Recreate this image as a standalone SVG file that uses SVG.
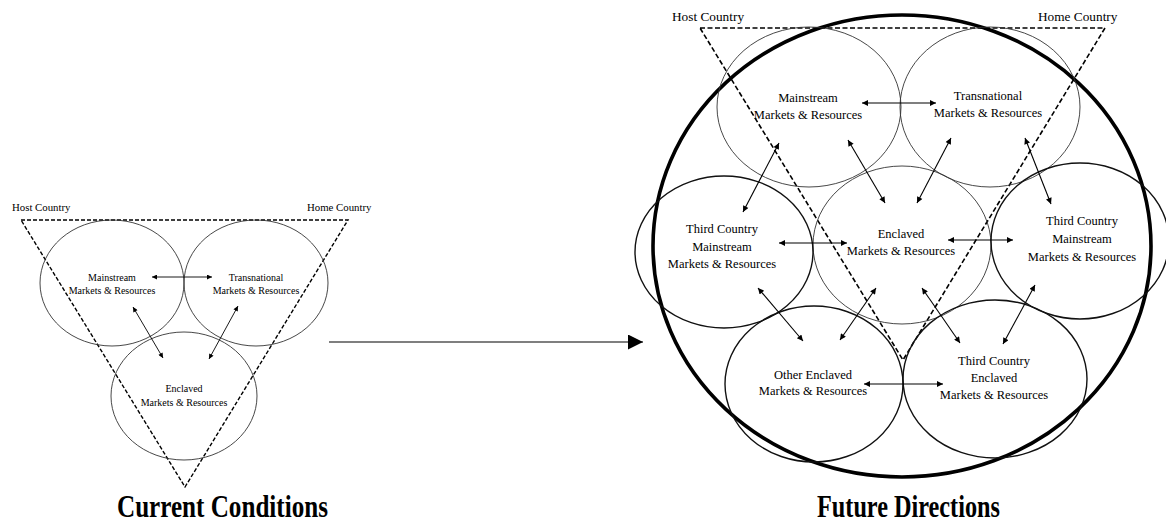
<svg xmlns="http://www.w3.org/2000/svg" width="1166" height="524" viewBox="0 0 1166 524">
  <defs>
    <style>
      .bg { fill: #ffffff; }
      .lbl { font-family: "Liberation Serif", "Times New Roman", serif; fill: #000; text-anchor: middle; }
      .s10 { font-size: 10px; }
      .s12 { font-size: 12.5px; }
      .country-s { font-family: "Liberation Serif", serif; font-size: 10.8px; fill: #000; }
      .country-l { font-family: "Liberation Serif", serif; font-size: 13.3px; fill: #000; }
      .title { font-family: "Liberation Serif", "Times New Roman", serif; font-weight: bold; font-size: 31px; fill: #000; }
      .tri-s { fill: none; stroke: #000; stroke-width: 1.4; stroke-dasharray: 4 2; }
      .tri-l { fill: none; stroke: #000; stroke-width: 1.6; stroke-dasharray: 5 2.5; }
      .ring-thin { fill: none; stroke: #333; stroke-width: 0.9; }
      .ring-mid { fill: none; stroke: #111; stroke-width: 1.4; }
      .ring-big { fill: none; stroke: #000; stroke-width: 3.6; }
      .link-s { stroke: #000; stroke-width: 0.9; fill: none; marker-start: url(#tipS); marker-end: url(#tipS); }
      .link-l { stroke: #000; stroke-width: 1.1; fill: none; marker-start: url(#tipL); marker-end: url(#tipL); }
      .flow { stroke: #000; stroke-width: 1.2; fill: none; marker-end: url(#tipBig); }
    </style>
    <marker id="tipS" viewBox="0 0 10 10" refX="10" refY="5" markerWidth="6" markerHeight="5" orient="auto-start-reverse" markerUnits="userSpaceOnUse">
      <path d="M0,0 L10,5 L0,10 z" fill="#000"/>
    </marker>
    <marker id="tipL" viewBox="0 0 10 10" refX="10" refY="5" markerWidth="8" markerHeight="6" orient="auto-start-reverse" markerUnits="userSpaceOnUse">
      <path d="M0,0 L10,5 L0,10 z" fill="#000"/>
    </marker>
    <marker id="tipBig" viewBox="0 0 10 10" refX="10" refY="5" markerWidth="15" markerHeight="15" orient="auto" markerUnits="userSpaceOnUse">
      <path d="M0,0 L10,5 L0,10 z" fill="#000"/>
    </marker>
  </defs>

  <rect class="bg" x="0" y="0" width="1166" height="524"/>

  <!-- ===== Current conditions (left) ===== -->
  <g id="current-frame">
    <polygon class="tri-s" points="21,220 348,220 185,487"/>
    <text class="country-s" x="12" y="211">Host Country</text>
    <text class="country-s" x="307" y="211">Home Country</text>
  </g>
  <g id="cur-mainstream">
    <ellipse class="ring-thin" cx="112" cy="283" rx="72" ry="63"/>
    <text class="lbl s10" x="112" y="281">Mainstream</text>
    <text class="lbl s10" x="112" y="294">Markets &amp; Resources</text>
  </g>
  <g id="cur-transnational">
    <ellipse class="ring-thin" cx="256" cy="283" rx="72" ry="63"/>
    <text class="lbl s10" x="256" y="281">Transnational</text>
    <text class="lbl s10" x="256" y="294">Markets &amp; Resources</text>
  </g>
  <g id="cur-enclaved">
    <ellipse class="ring-thin" cx="184" cy="396" rx="73" ry="64"/>
    <text class="lbl s10" x="184" y="392">Enclaved</text>
    <text class="lbl s10" x="184" y="406">Markets &amp; Resources</text>
  </g>
  <g id="current-title">
    <text class="title" x="117" y="517" textLength="211" lengthAdjust="spacingAndGlyphs">Current Conditions</text>
  </g>

  <!-- ===== Future directions (right) ===== -->
  <g id="future-frame">
    <ellipse class="ring-big" cx="902" cy="246" rx="249" ry="231"/>
    <polygon class="tri-l" points="700,28 1105,28 903,360"/>
    <text class="country-l" x="672" y="21">Host Country</text>
    <text class="country-l" x="1038" y="21">Home Country</text>
  </g>
  <g id="fut-mainstream">
    <ellipse class="ring-thin" cx="809" cy="107" rx="92" ry="80"/>
    <text class="lbl s12" x="808" y="102">Mainstream</text>
    <text class="lbl s12" x="808" y="119">Markets &amp; Resources</text>
  </g>
  <g id="fut-transnational">
    <ellipse class="ring-thin" cx="990" cy="107" rx="90" ry="80"/>
    <text class="lbl s12" x="988" y="100">Transnational</text>
    <text class="lbl s12" x="988" y="117">Markets &amp; Resources</text>
  </g>
  <g id="fut-enclaved">
    <ellipse class="ring-thin" cx="902" cy="245" rx="89" ry="79"/>
    <text class="lbl s12" x="901" y="238">Enclaved</text>
    <text class="lbl s12" x="901" y="255">Markets &amp; Resources</text>
  </g>
  <g id="fut-third-mainstream-west">
    <ellipse class="ring-mid" cx="724" cy="252" rx="89" ry="76"/>
    <text class="lbl s12" x="722" y="233">Third Country</text>
    <text class="lbl s12" x="722" y="251">Mainstream</text>
    <text class="lbl s12" x="722" y="268">Markets &amp; Resources</text>
  </g>
  <g id="fut-third-mainstream-east">
    <ellipse class="ring-mid" cx="1080" cy="241" rx="89" ry="78"/>
    <text class="lbl s12" x="1082" y="225">Third Country</text>
    <text class="lbl s12" x="1082" y="243">Mainstream</text>
    <text class="lbl s12" x="1082" y="261">Markets &amp; Resources</text>
  </g>
  <g id="fut-other-enclaved">
    <ellipse class="ring-mid" cx="814" cy="384" rx="89" ry="78"/>
    <text class="lbl s12" x="813" y="379">Other Enclaved</text>
    <text class="lbl s12" x="813" y="395">Markets &amp; Resources</text>
  </g>
  <g id="fut-third-enclaved">
    <ellipse class="ring-mid" cx="995" cy="379" rx="92" ry="79"/>
    <text class="lbl s12" x="994" y="365">Third Country</text>
    <text class="lbl s12" x="994" y="382">Enclaved</text>
    <text class="lbl s12" x="994" y="399">Markets &amp; Resources</text>
  </g>
  <g id="future-title">
    <text class="title" x="817" y="517" textLength="183" lengthAdjust="spacingAndGlyphs">Future Directions</text>
  </g>

  <!-- ===== Connectors ===== -->
  <g id="connectors">
    <!-- current -->
    <line class="link-s" x1="152" y1="277" x2="212" y2="277"/>
    <line class="link-s" x1="133" y1="307" x2="163" y2="358"/>
    <line class="link-s" x1="238" y1="306" x2="209" y2="359"/>
    <!-- transition -->
    <line class="flow" x1="329" y1="342" x2="643" y2="342"/>
    <!-- future -->
    <line class="link-l" x1="862" y1="103" x2="936" y2="103"/>
    <line class="link-l" x1="848" y1="140" x2="885" y2="203"/>
    <line class="link-l" x1="951" y1="138" x2="917" y2="203"/>
    <line class="link-l" x1="779" y1="143" x2="743" y2="212"/>
    <line class="link-l" x1="1025" y1="138" x2="1051" y2="204"/>
    <line class="link-l" x1="779" y1="243" x2="847" y2="243"/>
    <line class="link-l" x1="948" y1="240" x2="1013" y2="240"/>
    <line class="link-l" x1="758" y1="288" x2="803" y2="341"/>
    <line class="link-l" x1="876" y1="288" x2="840" y2="340"/>
    <line class="link-l" x1="922" y1="288" x2="960" y2="343"/>
    <line class="link-l" x1="1035" y1="285" x2="1003" y2="344"/>
    <line class="link-l" x1="864" y1="384" x2="943" y2="384"/>
  </g>
</svg>
